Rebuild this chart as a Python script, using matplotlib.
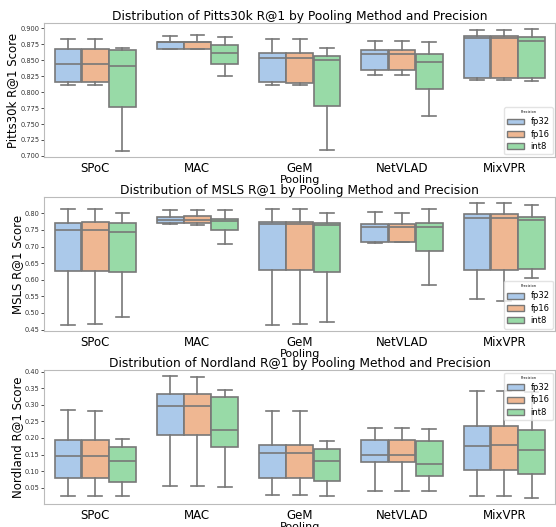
import numpy as np
import matplotlib
matplotlib.use("Agg")
import matplotlib.pyplot as plt
from matplotlib.patches import Patch

# Données : (min moustache, Q1, médiane, Q3, max moustache)
methods = ["SPoC", "MAC", "GeM", "NetVLAD", "MixVPR"]
precisions = ["fp32", "fp16", "int8"]
colors = ["#abc9ea", "#efb792", "#98daa7"]  # palette pastel désaturée

pitts_fp32 = [(0.8115, 0.8156, 0.8437, 0.8682, 0.8828), (0.8675, 0.8680, 0.8780, 0.8790, 0.8880),
              (0.8117, 0.8159, 0.8530, 0.8619, 0.8828), (0.8274, 0.8352, 0.8593, 0.8655, 0.8807),
              (0.8190, 0.8222, 0.8843, 0.8880, 0.8974)]
pitts_fp16 = [(0.8115, 0.8156, 0.8437, 0.8682, 0.8828), (0.8675, 0.8680, 0.8785, 0.8790, 0.8890),
              (0.8117, 0.8150, 0.8530, 0.8619, 0.8828), (0.8274, 0.8352, 0.8593, 0.8655, 0.8807),
              (0.8195, 0.8222, 0.8850, 0.8880, 0.8980)]
pitts_int8 = [(0.7078, 0.7768, 0.8415, 0.8666, 0.8687), (0.8258, 0.8446, 0.8619, 0.8739, 0.8864),
              (0.7100, 0.7789, 0.8509, 0.8567, 0.8687), (0.7622, 0.8055, 0.8478, 0.8598, 0.8786),
              (0.8170, 0.8222, 0.8807, 0.8870, 0.8990)]

msls_fp32 = [(0.464, 0.626, 0.751, 0.772, 0.814), (0.767, 0.771, 0.781, 0.790, 0.810),
             (0.464, 0.630, 0.769, 0.775, 0.814), (0.711, 0.715, 0.759, 0.768, 0.804),
             (0.542, 0.629, 0.786, 0.797, 0.831)]
msls_fp16 = [(0.466, 0.626, 0.751, 0.773, 0.814), (0.765, 0.770, 0.780, 0.791, 0.811),
             (0.466, 0.630, 0.769, 0.773, 0.814), (0.713, 0.715, 0.759, 0.768, 0.802),
             (0.535, 0.629, 0.786, 0.797, 0.831)]
msls_int8 = [(0.488, 0.623, 0.744, 0.770, 0.802), (0.709, 0.749, 0.776, 0.782, 0.810),
             (0.474, 0.624, 0.766, 0.772, 0.802), (0.584, 0.688, 0.759, 0.770, 0.812),
             (0.606, 0.632, 0.779, 0.789, 0.826)]

nord_fp32 = [(0.025, 0.078, 0.145, 0.195, 0.285), (0.055, 0.208, 0.296, 0.333, 0.387),
             (0.028, 0.078, 0.154, 0.178, 0.283), (0.041, 0.127, 0.149, 0.193, 0.231),
             (0.025, 0.104, 0.176, 0.237, 0.342)]
nord_fp16 = [(0.025, 0.078, 0.145, 0.195, 0.283), (0.055, 0.208, 0.296, 0.333, 0.385),
             (0.028, 0.078, 0.154, 0.178, 0.283), (0.041, 0.127, 0.149, 0.193, 0.231),
             (0.026, 0.104, 0.178, 0.237, 0.341)]
nord_int8 = [(0.025, 0.068, 0.129, 0.173, 0.197), (0.051, 0.174, 0.224, 0.325, 0.345),
             (0.025, 0.070, 0.130, 0.168, 0.190), (0.041, 0.086, 0.121, 0.190, 0.227),
             (0.019, 0.090, 0.164, 0.223, 0.340)]

datasets = [
    ("Pitts30k", [pitts_fp32, pitts_fp16, pitts_int8], "lower right"),
    ("MSLS", [msls_fp32, msls_fp16, msls_int8], "lower right"),
    ("Nordland", [nord_fp32, nord_fp16, nord_int8], "upper right"),
]

line_col = "#787878"
W, H = 556, 527
fig = plt.figure(figsize=(W / 100, H / 100), dpi=100)

# rectangles des axes en pixels (gauche, haut, bas)
rects = [(44, 23, 157), (44, 197, 331), (44, 370, 504)]

for (name, series, loc), (left, top, bottom) in zip(datasets, rects):
    ax = fig.add_axes([left / W, 1 - bottom / H, (W - left) / W - 0.001, (bottom - top) / H])
    bw = 0.8 / 3
    for j, (prec, vals) in enumerate(zip(precisions, series)):
        stats = []
        for s in vals:
            stats.append({"whislo": s[0], "q1": s[1], "med": s[2], "q3": s[3], "whishi": s[4], "fliers": []})
        pos = np.arange(len(methods)) + (j - 1) * bw
        ax.bxp(stats, positions=pos, widths=bw * 0.98, capwidths=bw * 0.5, patch_artist=True,
               manage_ticks=False,
               boxprops=dict(facecolor=colors[j], edgecolor=line_col, linewidth=1.2),
               medianprops=dict(color=line_col, linewidth=1.2),
               whiskerprops=dict(color=line_col, linewidth=1.2),
               capprops=dict(color=line_col, linewidth=1.2))
    ax.set_xlim(-0.5, len(methods) - 0.5)
    ax.set_xticks(range(len(methods)))
    ax.set_xticklabels(methods, fontsize=8.5)
    ax.tick_params(axis="x", length=0, pad=3.5)
    ax.tick_params(axis="y", labelsize=4.8, length=2, width=0.6, pad=1, colors="#333333")
    ax.set_xlabel("Pooling", fontsize=8, labelpad=0)
    ax.set_ylabel(f"{name} R@1 Score", fontsize=8.5, labelpad=1)
    ax.set_title(f"Distribution of {name} R@1 by Pooling Method and Precision", fontsize=8.8, pad=2)
    for sp in ax.spines.values():
        sp.set_color("#bbbbbb")
        sp.set_linewidth(0.8)
    handles = [Patch(facecolor=c, edgecolor=line_col, linewidth=1.0, label=p) for c, p in zip(colors, precisions)]
    leg = ax.legend(handles=handles, title="Precision", loc=loc, fontsize=6, title_fontsize=2.5,
                    frameon=True, borderaxespad=0.3, handlelength=2.0, labelspacing=0.4)
    leg.get_frame().set_edgecolor("#dddddd")

fig.savefig("out.png", dpi=100)
